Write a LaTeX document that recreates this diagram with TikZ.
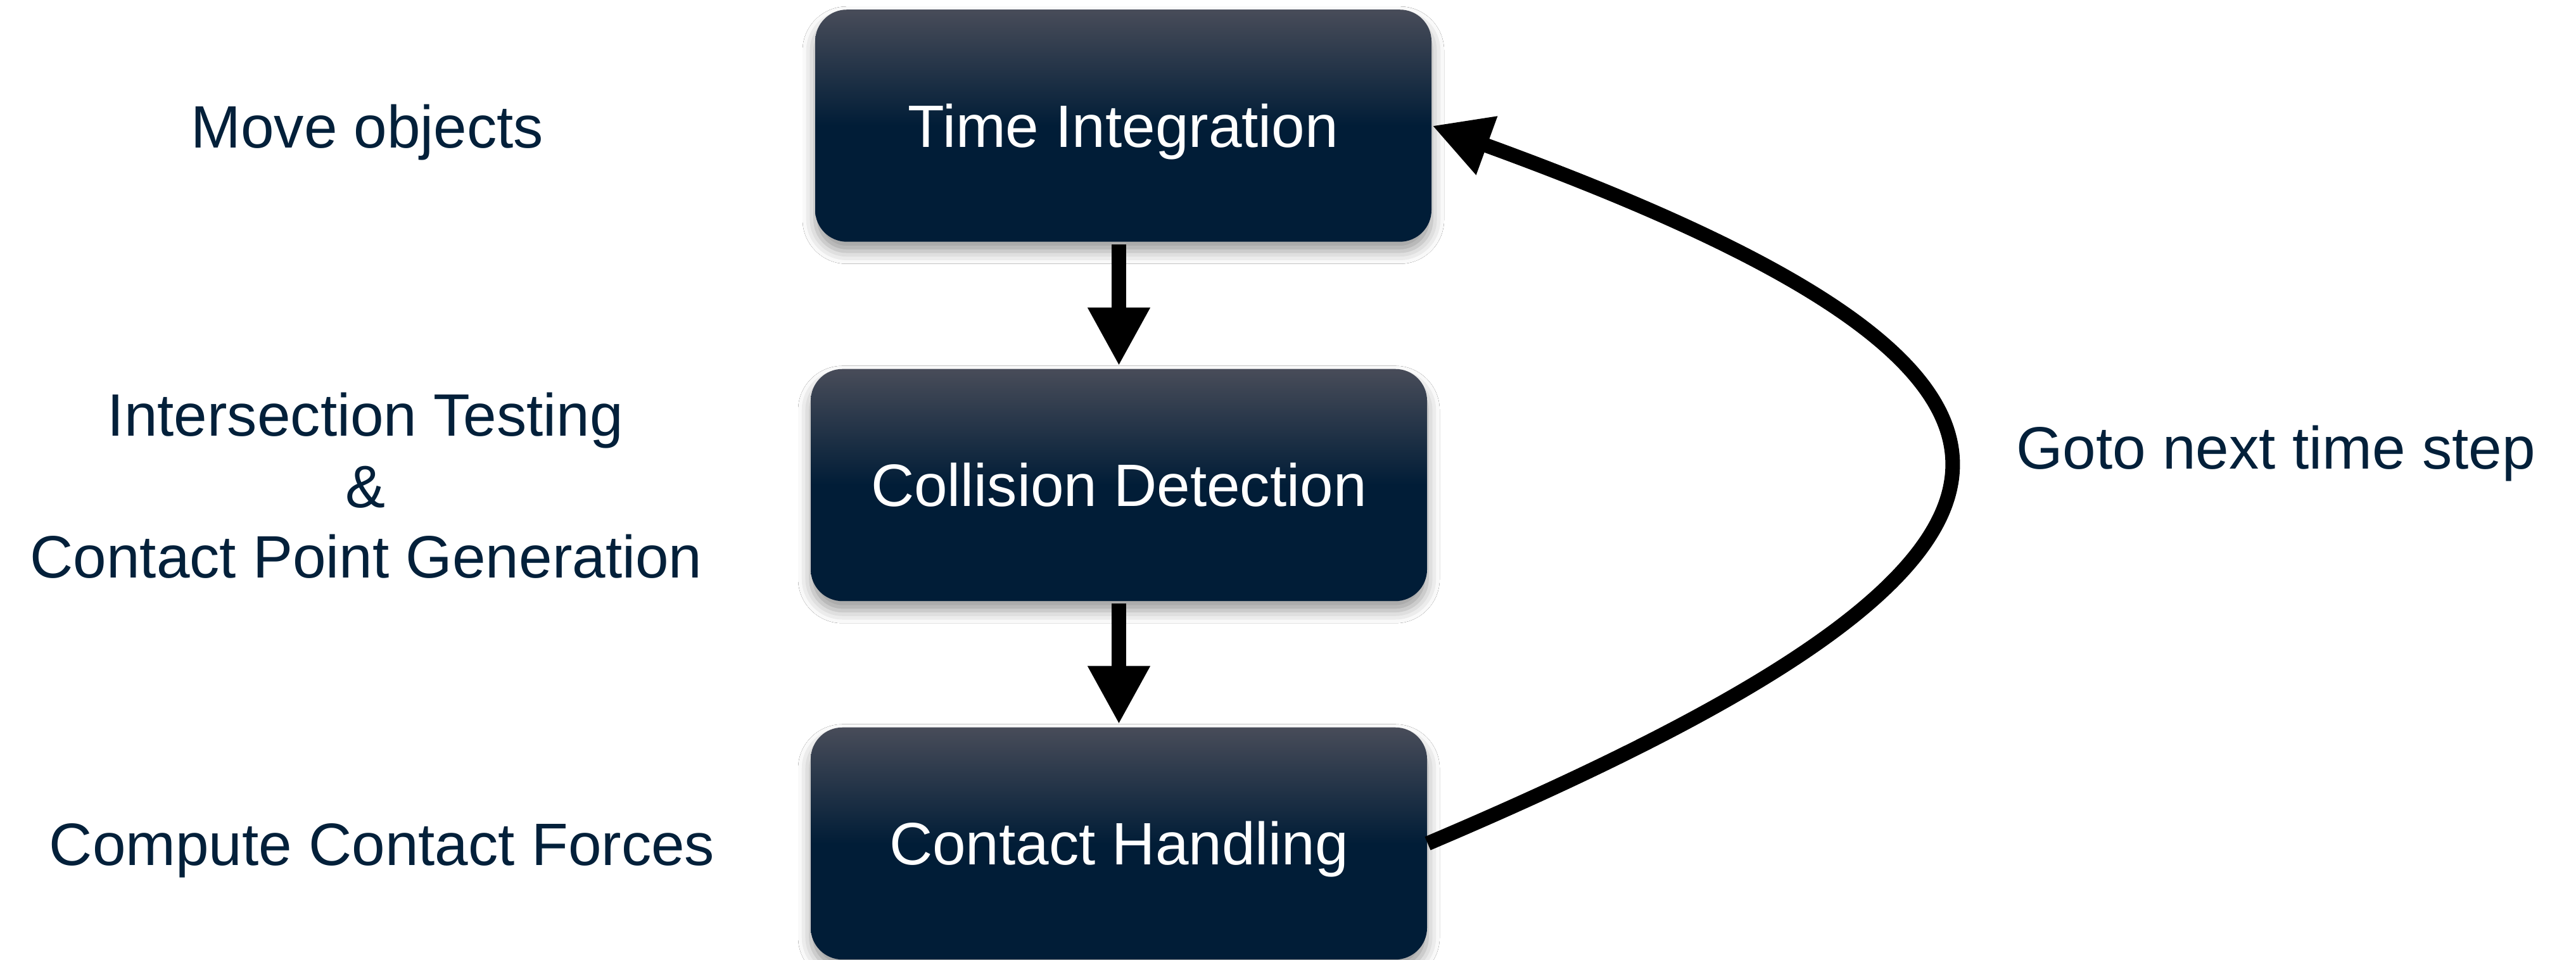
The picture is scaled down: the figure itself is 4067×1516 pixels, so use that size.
\documentclass[tikz,border=0pt]{standalone}
\usepackage{fontspec}
\setmainfont{Liberation Sans}
\usetikzlibrary{arrows.meta,shadows.blur}

\definecolor{boxdark}{HTML}{011D37}
\definecolor{boxlight}{HTML}{484C59}
\definecolor{labelnavy}{HTML}{03203A}

% vertical shading: light at the top, dark from the middle down
\pgfdeclareverticalshading{stageshade}{100bp}{%
  color(0bp)=(boxdark); color(25bp)=(boxdark); color(50bp)=(boxdark);
  color(75bp)=(boxlight); color(100bp)=(boxlight)}

\tikzset{
  stage/.style={rectangle, rounded corners=10pt, shading=stageshade,
    minimum width=194.6pt, minimum height=73.3pt, inner sep=0pt,
    text=white, text height=13.5pt, text depth=0pt,
    blur shadow={shadow xshift=0pt, shadow yshift=-3pt,
                 shadow blur radius=4pt, shadow opacity=40}},
  note/.style={anchor=base, text=labelnavy, inner sep=0pt},
  flow/.style={line width=4.6pt,
    -{Triangle[length=18.4pt,width=18.4pt]}},
}

\begin{document}
\begin{tikzpicture}[x=0.2pt,y=0.2pt,font=\fontsize{18.9}{22.4}\selectfont]
  \fill[white] (0,0) rectangle (4067,1516);
  \useasboundingbox (0,0) rectangle (4067,1516);

  % pipeline stages
  \node[stage] (integ)   at (1773.5,1317.5) {Time Integration};
  \node[stage] (collide) at (1766.5,750)    {Collision Detection};
  \node[stage] (contact) at (1766.5,184)    {Contact Handling};

  % descriptions on the left
  \node[note] (move)  at (580,1282)  {Move objects};
  \node[note] (isect) at (577,827)   {Intersection Testing};
  \node[note] (amp)   at (577,714)   {\&};
  \node[note] (cpgen) at (578,603)   {Contact Point Generation};
  \node[note] (force) at (603,149)   {Compute Contact Forces};

  % loop label
  \node[note] (loop)  at (3593,775)  {Goto next time step};

  % flow between stages
  \draw[flow, shorten <=0.6pt, shorten >=0.8pt]
    (integ.south -| collide.north) -- (collide.north);
  \draw[flow, shorten <=0.6pt, shorten >=0.8pt]
    (collide.south) -- (contact.north);

  % back to the first stage
  \draw[flow] (contact.east) .. controls +(23:1160) and +(-20:1175) .. (integ.east);
\end{tikzpicture}
\end{document}
